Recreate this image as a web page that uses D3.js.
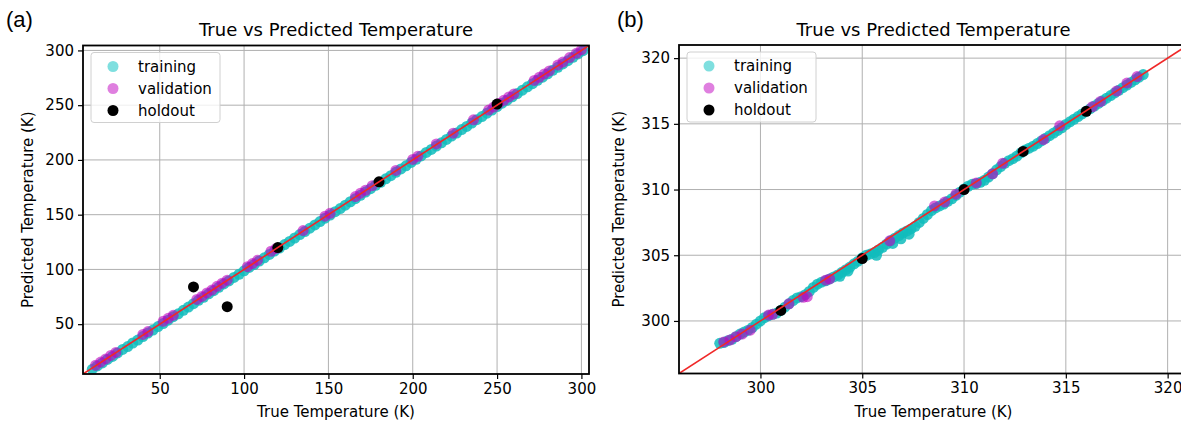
<!DOCTYPE html>
<html>
<head>
<meta charset="utf-8">
<script src="https://cdn.jsdelivr.net/npm/d3@7"></script>
<style>
  body { margin: 0; background: #fff; }
  svg { font-family: "DejaVu Sans", sans-serif; }
</style>
</head>
<body>
<svg id="chart" width="1181" height="422"></svg>
<script>
// Panel (a) data: [true, predicted]
const trainA = [[10,8.8],[13,11.9],[16,14.6],[19,17.8],[22,20.5],[25,23.7],[28,26.9],[31,29.6],[34,32.8],[37,35.5],
  [40,38.7],[43,41.9],[46,44.6],[49,47.8],[52,50.6],[55,53.7],[58,56.8],[61,59.5],[64,62.7],[67,65.6],
  [70,68.7],[73,71.8],[76,74.5],[79,77.7],[82,80.6],[85,83.7],[88,86.8],[91,89.5],[94,92.7],[97,95.6],
  [100,98.7],[103,101.8],[106,104.5],[109,107.7],[112,110.6],[115,113.7],[118,116.8],[121,119.5],[124,122.7],[127,125.6],
  [130,128.7],[133,131.8],[136,134.6],[139,137.7],[142,140.6],[145,143.7],[148,146.8],[151,149.6],[154,152.7],[157,155.6],
  [160,158.7],[163,161.8],[166,164.6],[169,167.7],[172,170.6],[175,173.7],[178,176.8],[181,179.6],[184,182.7],[187,185.6],
  [190,188.7],[193,191.8],[196,194.6],[199,197.7],[202,200.6],[205,203.7],[208,206.8],[211,209.6],[214,212.7],[217,215.6],
  [220,218.7],[223,221.8],[226,224.6],[229,227.7],[232,230.6],[235,233.7],[238,236.8],[241,239.6],[244,242.7],[247,245.6],
  [250,248.7],[253,251.8],[256,254.6],[259,257.7],[262,260.6],[265,263.7],[268,266.8],[271,269.6],[274,272.7],[277,275.6],
  [280,278.7],[283,281.8],[286,284.6],[289,287.7],[292,290.6],[295,293.7],[298,296.8],[301,299.8]];
const validA = [[12,12.5],[15,15.4],[18,18.3],[21,21.5],[24,24.2],[40,40.6],[43,43.2],[52,52.6],[55,55.4],[58,58.1],
  [72,72.6],[75,75.3],[78,78.5],[81,81.2],[84,84.6],[87,87.4],[90,90.2],[102,102.5],[105,105.4],[108,108.3],
  [116,116.6],[119,119.2],[135,135.5],[148,148.6],[151,151.3],[166,166.5],[169,169.6],[172,172.3],[176,176.5],[190,190.4],
  [200,200.5],[203,203.3],[214,214.6],[224,224.4],[236,236.6],[245,245.5],[248,248.3],[251,251.6],[254,254.4],[257,257.5],
  [260,260.3],[272,272.6],[275,275.4],[278,278.5],[281,281.3],[286,286.6],[289,289.4],[293,293.5],[297,297.4],[300,300.6]];
const holdA = [[70,84],[90,66],[120,120],[180,180],[250,251]];
const ticksA = [50, 100, 150, 200, 250, 300];

// Panel (b) data
const trainB = [[298.0,298.3],[298.2,298.35],[298.4,298.5],[298.6,298.6],[298.8,298.8],[299.0,299.0],[299.2,299.15],[299.4,299.3],
  [299.6,299.5],[299.8,299.75],[300.0,300.0],[300.2,300.25],[300.4,300.4],[300.6,300.5],[300.8,300.6],[301.0,300.8],
  [301.2,301.05],[301.4,301.3],[301.6,301.55],[301.8,301.75],[302.0,301.85],[302.2,302.0],[302.4,302.25],[302.6,302.55],
  [302.8,302.8],[303.0,302.95],[303.2,303.05],[303.4,303.2],[303.6,303.35],[303.8,303.5],[304.0,303.7],[304.2,303.9],
  [304.4,304.1],[304.6,304.35],[304.8,304.55],[305.0,304.8],[305.2,305.0],[305.4,305.1],[305.6,305.2],[305.8,305.4],
  [306.0,305.6],[306.2,305.85],[306.4,306.1],[306.6,306.3],[306.8,306.5],[307.0,306.7],[307.2,306.85],[307.4,307.0],
  [307.6,307.2],[307.8,307.5],[308.0,307.8],[308.2,308.1],[308.4,308.4],[308.6,308.6],[308.8,308.75],[309.0,308.9],
  [309.2,309.1],[309.4,309.3],[309.6,309.55],[309.8,309.8],[310.0,310.05],[310.2,310.25],[310.4,310.4],[310.6,310.45],
  [310.8,310.55],[311.0,310.7],[311.2,310.95],[311.4,311.2],[311.6,311.5],[311.8,311.75],[312.0,312.0],[312.2,312.2],
  [312.4,312.35],[312.6,312.55],[312.8,312.8],[313.0,313.0],[313.2,313.15],[313.4,313.3],[313.6,313.5],[313.8,313.7],
  [314.0,313.9],[314.2,314.1],[314.4,314.3],[314.6,314.5],[314.8,314.7],[315.0,314.95],[315.2,315.15],[315.4,315.35],
  [315.6,315.55],[315.8,315.75],[316.0,315.95],[316.2,316.15],[316.4,316.35],[316.6,316.55],[316.8,316.75],[317.0,316.95],
  [317.2,317.15],[317.4,317.35],[317.6,317.55],[317.8,317.75],[318.0,317.95],[318.2,318.15],[318.4,318.35],[318.6,318.55],
  [318.8,318.75],[303.9,303.4],[304.3,303.8],[305.7,305.0],[306.5,305.9],[306.9,306.25],[307.3,306.6]];
const validB = [[298.2,298.4],[298.5,298.55],[298.8,298.8],[299.1,299.0],[299.5,299.3],[300.4,300.45],[300.6,300.5],
  [301.4,301.3],[302.1,301.8],[302.3,301.85],[303.2,303.1],[303.4,303.2],[306.35,306.1],[308.55,308.75],[309.05,309.05],
  [309.6,309.65],[310.6,310.5],[311.4,311.2],[311.9,312.0],[313.9,313.8],[314.7,314.85],[316.3,316.3],[316.7,316.7],
  [317.5,317.5],[318.0,318.1],[318.5,318.6]];
const holdB = [[301,300.8],[305,304.75],[310,310],[312.9,312.9],[316,315.95]];
const ticksB = [300, 305, 310, 315, 320];

const legendItems = [
  { label: "training", color: "#00bfbf", alpha: 0.5 },
  { label: "validation", color: "#bf00bf", alpha: 0.5 },
  { label: "holdout", color: "#000000", alpha: 1 }
];

const svg = d3.select("#chart");

function drawPanel(opt) {
  const x = d3.scaleLinear().domain(opt.domain).range([opt.left, opt.right]);
  const y = d3.scaleLinear().domain(opt.domain).range([opt.bottom, opt.top]);
  const g = svg.append("g");
  const clipId = "clip-" + opt.tag;

  g.append("clipPath").attr("id", clipId)
    .append("rect")
    .attr("x", opt.left).attr("y", opt.top)
    .attr("width", opt.right - opt.left).attr("height", opt.bottom - opt.top);

  // grid lines
  g.selectAll(".gx").data(opt.ticks).enter().append("line")
    .attr("x1", d => x(d)).attr("x2", d => x(d))
    .attr("y1", opt.top).attr("y2", opt.bottom)
    .attr("stroke", "#b0b0b0").attr("stroke-width", 1);
  g.selectAll(".gy").data(opt.ticks).enter().append("line")
    .attr("y1", d => y(d)).attr("y2", d => y(d))
    .attr("x1", opt.left).attr("x2", opt.right)
    .attr("stroke", "#b0b0b0").attr("stroke-width", 1);

  const plot = g.append("g").attr("clip-path", `url(#${clipId})`);

  // dense overlapping points in the original read as near-solid colour
  plot.selectAll(".train").data(opt.train).enter().append("circle")
    .attr("cx", d => x(d[0])).attr("cy", d => y(d[1])).attr("r", 5.5)
    .attr("fill", "#10bcbc").attr("fill-opacity", 0.85);
  plot.selectAll(".valid").data(opt.valid).enter().append("circle")
    .attr("cx", d => x(d[0])).attr("cy", d => y(d[1])).attr("r", 5.5)
    .attr("fill", "#bf00bf").attr("fill-opacity", 0.6);
  plot.selectAll(".hold").data(opt.hold).enter().append("circle")
    .attr("cx", d => x(d[0])).attr("cy", d => y(d[1])).attr("r", 5.5)
    .attr("fill", "#000");

  // y = x reference line
  plot.append("line")
    .attr("x1", x(opt.domain[0])).attr("y1", y(opt.domain[0]))
    .attr("x2", x(opt.domain[1])).attr("y2", y(opt.domain[1]))
    .attr("stroke", "#f02828").attr("stroke-width", 1.6);

  // axes
  const xAxis = d3.axisBottom(x).tickValues(opt.ticks).tickSize(5).tickPadding(4).tickFormat(d3.format("d"));
  const yAxis = d3.axisLeft(y).tickValues(opt.ticks).tickSize(5).tickPadding(4).tickFormat(d3.format("d"));
  g.append("g").attr("transform", `translate(0,${opt.bottom})`).call(xAxis)
    .call(a => a.select(".domain").remove());
  g.append("g").attr("transform", `translate(${opt.left},0)`).call(yAxis)
    .call(a => a.select(".domain").remove());
  g.selectAll(".tick text").attr("font-size", 15).attr("fill", "#000").attr("font-family", "DejaVu Sans");
  g.selectAll(".tick line").attr("stroke", "#000").attr("stroke-width", 1.2);

  // spines
  g.append("rect")
    .attr("x", opt.left).attr("y", opt.top)
    .attr("width", opt.right - opt.left).attr("height", opt.bottom - opt.top)
    .attr("fill", "none").attr("stroke", "#000").attr("stroke-width", 1.8);

  // title and labels
  g.append("text").attr("x", (opt.left + Math.min(opt.right, 1188)) / 2).attr("y", 36)
    .attr("text-anchor", "middle").attr("font-size", 18).text("True vs Predicted Temperature");
  g.append("text").attr("x", (opt.left + opt.right) / 2).attr("y", 417)
    .attr("text-anchor", "middle").attr("font-size", 15).text("True Temperature (K)");
  g.append("text")
    .attr("transform", `translate(${opt.ylabelX},${(opt.top + opt.bottom) / 2}) rotate(-90)`)
    .attr("text-anchor", "middle").attr("font-size", 15).text("Predicted Temperature (K)");
  g.append("text").attr("x", opt.tagX).attr("y", 27)
    .attr("font-family", "Liberation Sans, Arial, sans-serif").attr("font-size", 22)
    .text(`(${opt.tag})`);

  // legend
  const lg = g.append("g").attr("transform", `translate(${opt.left + 8},${opt.top + 7})`);
  lg.append("rect").attr("width", 129).attr("height", 70).attr("rx", 3)
    .attr("fill", "#fff").attr("fill-opacity", 0.8)
    .attr("stroke", "#d0d0d0").attr("stroke-width", 1);
  const items = lg.selectAll(".li").data(legendItems).enter().append("g")
    .attr("transform", (d, i) => `translate(0,${14 + i * 22})`);
  items.append("circle").attr("cx", 22).attr("cy", 0).attr("r", 5.5)
    .attr("fill", d => d.color).attr("fill-opacity", d => d.alpha);
  items.append("text").attr("x", 47).attr("y", 5).attr("font-size", 15).text(d => d.label);
}

drawPanel({ tag: "a", domain: [4.5, 304.5], left: 83, right: 589, top: 45.5, bottom: 374,
  ticks: ticksA, train: trainA, valid: validA, hold: holdA, ylabelX: 33, tagX: 6 });
drawPanel({ tag: "b", domain: [296, 321], left: 679, right: 1188, top: 45, bottom: 373.5,
  ticks: ticksB, train: trainB, valid: validB, hold: holdB, ylabelX: 624, tagX: 617 });
</script>
</body>
</html>
